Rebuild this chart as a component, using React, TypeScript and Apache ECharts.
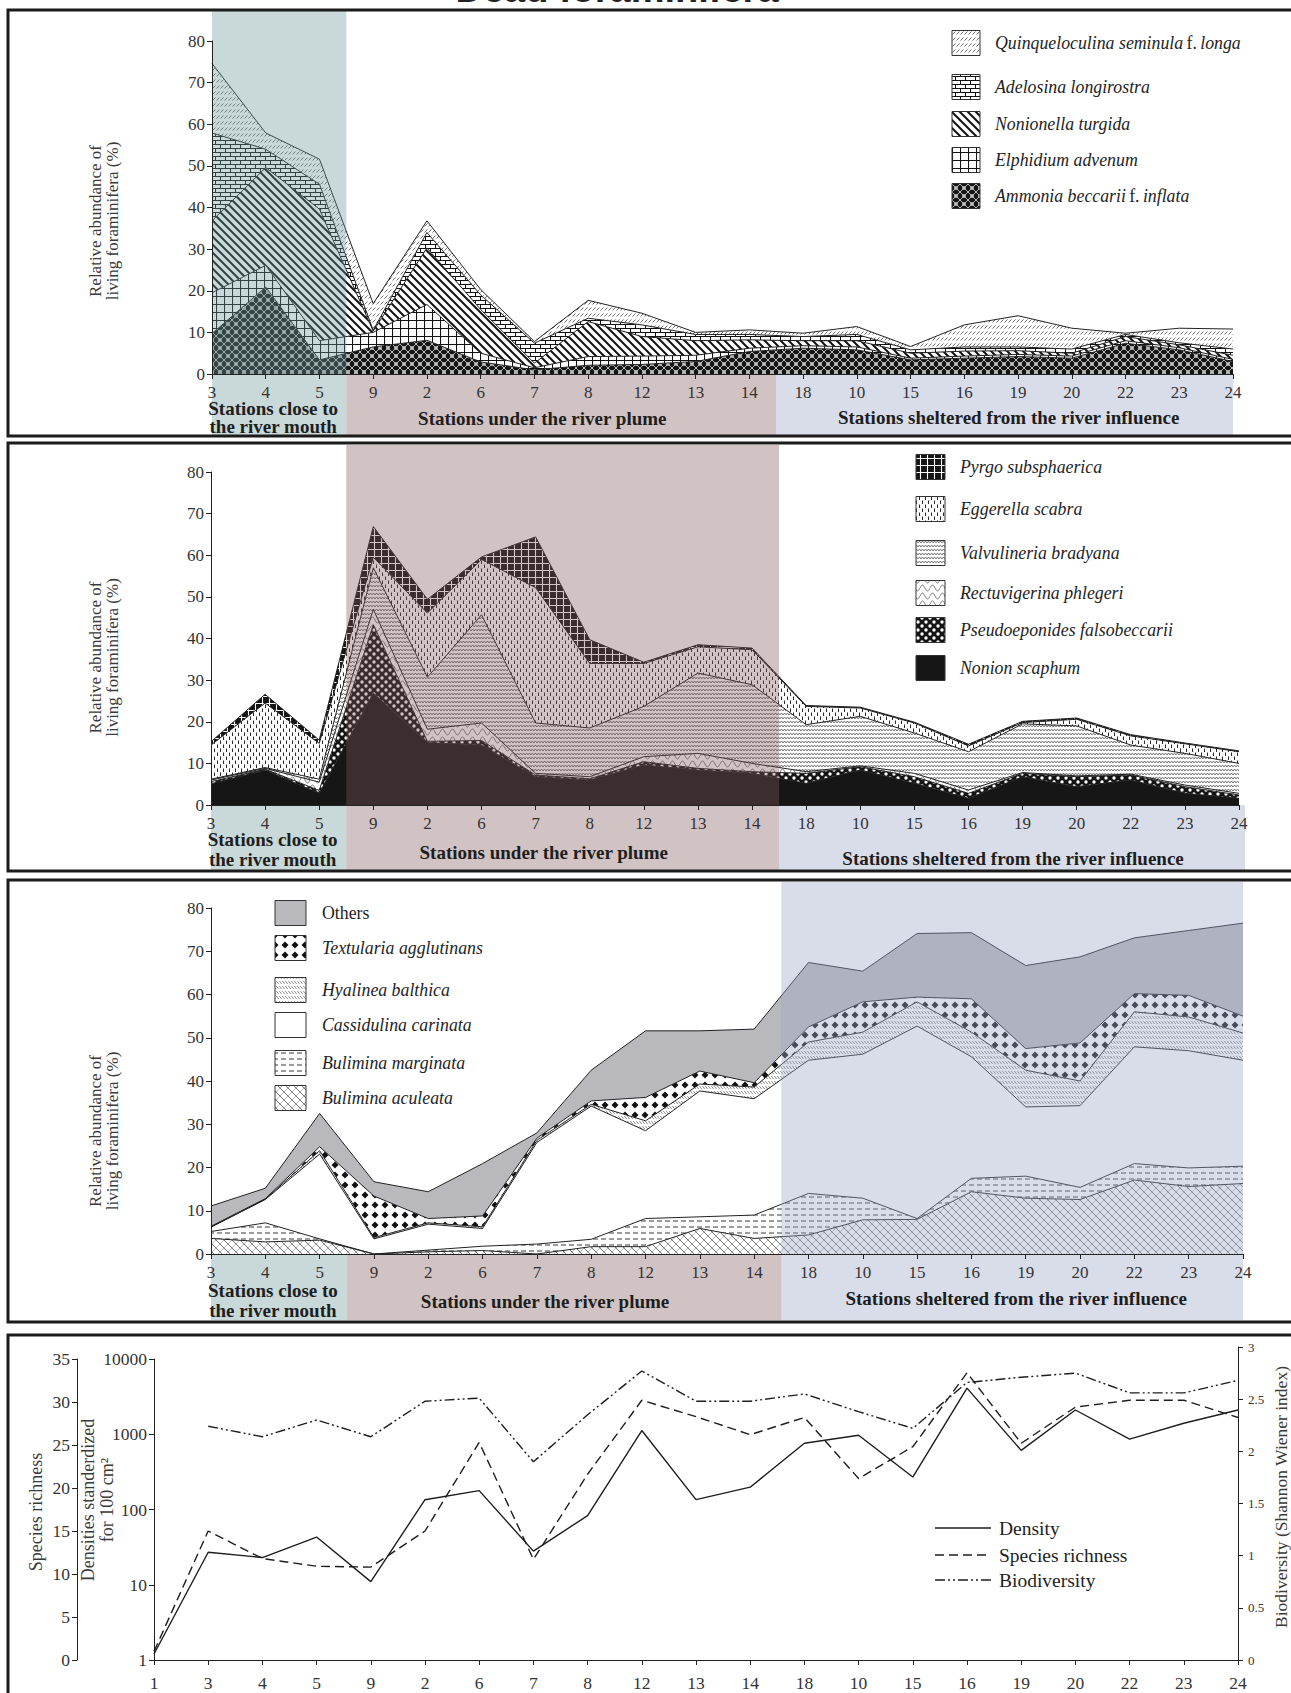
import React, { useEffect, useRef } from 'react';
import * as echarts from 'echarts';

// ---------------- DATA ----------------
const stations = ['3', '4', '5', '9', '2', '6', '7', '8', '12', '13', '14', '18', '10', '15', '16', '19', '20', '22', '23', '24'];
const stationsAll = ['1', '3', '4', '5', '9', '2', '6', '7', '8', '12', '13', '14', '18', '10', '15', '16', '19', '20', '22', '23', '24'];

// Panel 1 (relative abundance, %)
const ammoniaBeccarii = [9.7, 20.9, 3.4, 6.5, 8.1, 2.9, 1.0, 2.1, 2.3, 3.0, 5.4, 6.2, 5.8, 3.4, 3.8, 4.2, 3.8, 7.4, 5.8, 3.0];
const elphidiumAdvenum = [9.8, 5.2, 4.6, 3.5, 8.6, 2.1, 0.5, 2.1, 2.0, 1.5, 0.8, 0.6, 0.7, 0.4, 0.5, 0.5, 0.5, 0.6, 0.5, 0.5];
const nonionellaTurgida = [17.3, 23.5, 31.6, 0.3, 13.6, 10.5, 1.1, 8.4, 4.7, 3.5, 2.0, 1.2, 1.5, 1.2, 1.2, 0.9, 0.7, 1.0, 0.7, 1.0];
const adelosinaLongirostra = [21.1, 4.4, 6.0, 0.2, 3.7, 3.5, 4.8, 0.8, 2.8, 1.5, 1.3, 1.0, 1.5, 0.8, 1.0, 0.9, 1.0, 0.5, 0.5, 1.5];
const quinqueloculinaSeminula = [16.7, 3.9, 6.0, 6.4, 2.8, 1.3, 0.4, 4.3, 2.8, 0.5, 1.1, 0.8, 1.9, 0.8, 5.3, 7.5, 5.0, 0.3, 3.5, 4.8];

// Panel 2
const nonionScaphum = [5.1, 8.4, 2.8, 26.9, 15.0, 14.4, 6.8, 6.0, 9.6, 8.4, 7.6, 5.2, 8.4, 5.2, 1.6, 6.8, 4.4, 6.0, 2.8, 1.6];
const pseudoeponides = [0.5, 0.2, 0.7, 16.4, 0.3, 1.1, 0.4, 0.3, 0.8, 0.4, 0.4, 2.4, 0.8, 1.6, 1.2, 0.8, 2.4, 1.2, 1.6, 0.8];
const rectuvigerina = [0.4, 0.2, 2.0, 3.7, 2.9, 4.2, 0.4, 0.5, 1.2, 3.6, 2.0, 0.4, 0.2, 0.8, 0.8, 0.2, 0.2, 0.2, 0.4, 0.4];
const valvulineria = [0.2, 0.2, 0.7, 10.0, 12.5, 26.0, 12.1, 11.7, 12.1, 19.3, 18.9, 11.3, 11.9, 9.7, 9.2, 11.7, 12.0, 7.0, 7.6, 7.2];
const eggerella = [8.2, 15.5, 8.6, 2.5, 15.4, 13.3, 32.5, 15.5, 10.3, 6.3, 8.4, 4.4, 2.0, 2.4, 1.4, 0.3, 1.6, 2.2, 2.3, 2.8];
const pyrgo = [0.8, 2.1, 0.8, 7.4, 3.3, 0.6, 12.2, 5.7, 0.3, 0.5, 0.4, 0.2, 0.2, 0.2, 0.4, 0.3, 0.3, 0.3, 0.2, 0.2];

// Panel 3
const buliminaAculeata = [3.6, 2.8, 3.2, 0, 0.5, 0.8, 0, 1.7, 1.7, 5.9, 3.6, 4.4, 7.9, 8.0, 14.4, 12.9, 12.6, 17.1, 15.6, 16.3];
const buliminaMarginata = [1.6, 4.4, 0.3, 0, 0.4, 1.0, 2.3, 1.7, 6.5, 2.7, 5.4, 9.6, 5.0, 0.2, 3.1, 5.1, 2.8, 3.8, 4.3, 4.0];
const cassidulina = [1.0, 5.4, 19.6, 3.5, 6.0, 4.1, 23.5, 30.8, 20.3, 29.1, 26.9, 30.8, 33.3, 44.5, 28.1, 16.0, 18.9, 27.0, 27.1, 24.5];
const hyalinea = [0.1, 0.1, 0.8, 0.3, 0.3, 0.4, 0.5, 0.4, 2.3, 1.6, 2.7, 4.2, 5.1, 5.6, 5.7, 8.5, 5.7, 8.1, 7.8, 6.3];
const textularia = [0.1, 0.1, 0.9, 9.6, 1.0, 2.5, 0.5, 0.8, 5.4, 3.0, 1.0, 3.5, 7.0, 1.1, 7.7, 5.0, 8.8, 4.2, 5.0, 3.9];
const others = [4.7, 2.4, 7.7, 3.3, 6.2, 12.1, 1.2, 7.1, 15.4, 9.3, 12.4, 14.9, 7.1, 14.7, 15.3, 19.2, 19.9, 12.9, 15.0, 21.5];

// Panel 4
const density = [1.2, 27, 23, 43, 11, 135, 178, 28, 83, 1120, 135, 198, 760, 970, 270, 4100, 610, 2100, 860, 1400, 2100];
const speciesRichness = [1, 15.0, 11.8, 10.9, 10.8, 15.0, 25.3, 11.7, 21.6, 30.2, 28.3, 26.2, 28.2, 21.1, 24.8, 33.4, 25.2, 29.4, 30.2, 30.2, 28.2];
const biodiversity = [null, 2.24, 2.14, 2.30, 2.14, 2.48, 2.51, 1.90, 2.35, 2.77, 2.48, 2.48, 2.55, 2.38, 2.22, 2.66, 2.71, 2.75, 2.56, 2.56, 2.68];

const abundanceTicks = [0, 80, 10];
const logTicks = [1, 10000];
const richnessTicks = [0, 35, 5];
const shannonTicks = [0, 3, 0.5];

// ---------------- STYLE ----------------
const W = 1291;
const H = 1693;
const SERIF = '"Liberation Serif", "Times New Roman", Times, serif';
const SANS = '"Liberation Sans", Arial, Helvetica, sans-serif';

function tile(w: number, h: number, body: string, bg = '#ffffff') {
  const svg = `<svg xmlns="http://www.w3.org/2000/svg" width="${w}" height="${h}" viewBox="0 0 ${w} ${h}"><rect width="${w}" height="${h}" fill="${bg}"/>${body}</svg>`;
  return { image: 'data:image/svg+xml;base64,' + btoa(svg), repeat: 'repeat', imageWidth: w, imageHeight: h } as any;
}

const PAT = {
  ammonia: tile(8, 8, '<path d="M0,0L8,8M8,0L0,8" stroke="#fff" stroke-width="0.7"/><circle cx="4" cy="4" r="1.6" fill="none" stroke="#fff" stroke-width="0.6"/>', '#161616'),
  elphidium: tile(8, 8, '<path d="M0.5,0V8M0,0.5H8" stroke="#111" stroke-width="1.1"/>'),
  nonionella: tile(8, 8, '<path d="M0,0L8,8M-2,6L2,10M6,-2L10,2" stroke="#111" stroke-width="2"/>'),
  adelosina: tile(10, 8, '<path d="M0,0.5H10M0,4.5H10M0.5,0.5V4.5M5.5,4.5V8" stroke="#111" stroke-width="1"/>'),
  quinq: tile(4, 6, '<path d="M0.5,4.5L3.5,1.5" stroke="#333" stroke-width="0.7"/>'),
  nonion: '#161616',
  pseudo: tile(8, 8, '<circle cx="2" cy="2" r="1.7" fill="#fff"/><circle cx="6" cy="6" r="1.7" fill="#fff"/>', '#141414'),
  rect: tile(10, 8, '<path d="M0,4C2,0 3,0 5,4S8,8 10,4" fill="none" stroke="#444" stroke-width="0.7"/>'),
  valv: tile(6, 4, '<path d="M0,3L1.5,1L3,3L4.5,1L6,3" fill="none" stroke="#444" stroke-width="0.7"/>'),
  egg: tile(6, 8, '<path d="M1.5,0.5V4M4.5,4.5V8" stroke="#111" stroke-width="0.9"/>'),
  pyrgo: tile(7, 7, '<path d="M3.5,0V7M0,3.5H7" stroke="#fff" stroke-width="1.1"/>', '#141414'),
  acul: tile(8, 8, '<path d="M0,0L8,8M-2,6L2,10M6,-2L10,2" stroke="#333" stroke-width="0.7"/><path d="M8,0L0,8M-2,2L2,-2M6,10L10,6" stroke="#777" stroke-width="0.5"/>'),
  marg: tile(8, 6, '<path d="M1,3H6" stroke="#222" stroke-width="0.9"/>'),
  cass: '#ffffff',
  hyal: tile(3, 5, '<path d="M0.3,1L2.7,4" stroke="#444" stroke-width="0.6"/>'),
  text: tile(10, 10, '<path d="M5,1.5L8.5,5L5,8.5L1.5,5Z" fill="#111"/>'),
  others: '#b9b9bd',
};

const TEAL = 'rgba(108,149,149,0.37)';
const PINK = 'rgba(128,86,89,0.36)';
const BLUE = 'rgba(157,168,201,0.39)';

const panels = [
  { grid: { left: 212, top: 41, width: 1021, height: 333 }, series: [
    { name: 'Ammonia beccarii f. inflata', data: ammoniaBeccarii, pat: PAT.ammonia },
    { name: 'Elphidium advenum', data: elphidiumAdvenum, pat: PAT.elphidium },
    { name: 'Nonionella turgida', data: nonionellaTurgida, pat: PAT.nonionella },
    { name: 'Adelosina longirostra', data: adelosinaLongirostra, pat: PAT.adelosina },
    { name: 'Quinqueloculina seminula f. longa', data: quinqueloculinaSeminula, pat: PAT.quinq },
  ] },
  { grid: { left: 211, top: 472, width: 1028, height: 333 }, series: [
    { name: 'Nonion scaphum', data: nonionScaphum, pat: PAT.nonion },
    { name: 'Pseudoeponides falsobeccarii', data: pseudoeponides, pat: PAT.pseudo },
    { name: 'Rectuvigerina phlegeri', data: rectuvigerina, pat: PAT.rect },
    { name: 'Valvulineria bradyana', data: valvulineria, pat: PAT.valv },
    { name: 'Eggerella scabra', data: eggerella, pat: PAT.egg },
    { name: 'Pyrgo subsphaerica', data: pyrgo, pat: PAT.pyrgo },
  ] },
  { grid: { left: 211, top: 908, width: 1032, height: 346 }, series: [
    { name: 'Bulimina aculeata', data: buliminaAculeata, pat: PAT.acul },
    { name: 'Bulimina marginata', data: buliminaMarginata, pat: PAT.marg },
    { name: 'Cassidulina carinata', data: cassidulina, pat: PAT.cass },
    { name: 'Hyalinea balthica', data: hyalinea, pat: PAT.hyal },
    { name: 'Textularia agglutinans', data: textularia, pat: PAT.text },
    { name: 'Others', data: others, pat: PAT.others },
  ] },
];

const lineAxis = { show: true, lineStyle: { color: '#222', width: 1 } };
const tickStyle = { show: true, length: 5, lineStyle: { color: '#222', width: 1 } };

function buildOption(): any {
  const grid: any[] = panels.map((p) => ({ ...p.grid, containLabel: false }));
  grid.push({ left: 154, top: 1359, width: 1084, height: 301 });
  grid.push({ left: 154, top: 1347, width: 1084, height: 313 });

  const xAxis: any[] = panels.map((_, i) => ({
    type: 'category', gridIndex: i, data: stations, boundaryGap: false, z: 50,
    axisLine: lineAxis, axisTick: tickStyle,
    axisLabel: { interval: 0, margin: 10, color: '#333', fontFamily: SERIF, fontSize: 17 },
  }));
  xAxis.push({
    type: 'category', gridIndex: 3, data: stationsAll, boundaryGap: false, z: 50,
    axisLine: lineAxis, axisTick: tickStyle,
    axisLabel: { interval: 0, margin: 14, color: '#333', fontFamily: SERIF, fontSize: 17.5 },
  });
  xAxis.push({ type: 'category', gridIndex: 4, data: stationsAll, boundaryGap: false, show: false });

  const yAxis: any[] = panels.map((_, i) => ({
    type: 'value', gridIndex: i, min: abundanceTicks[0], max: abundanceTicks[1], interval: abundanceTicks[2], z: 50,
    axisLine: lineAxis, axisTick: tickStyle, splitLine: { show: false },
    axisLabel: { margin: 7, color: '#333', fontFamily: SERIF, fontSize: 17 },
  }));
  yAxis.push({
    type: 'value', gridIndex: 3, position: 'left', offset: 77, min: richnessTicks[0], max: richnessTicks[1], interval: richnessTicks[2],
    axisLine: lineAxis, axisTick: tickStyle, splitLine: { show: false },
    axisLabel: { margin: 7, color: '#333', fontFamily: SERIF, fontSize: 17.5 },
  });
  yAxis.push({
    type: 'log', gridIndex: 3, position: 'left', offset: 0, min: logTicks[0], max: logTicks[1], logBase: 10,
    axisLine: lineAxis, axisTick: tickStyle, splitLine: { show: false }, minorTick: { show: false },
    axisLabel: { margin: 7, color: '#333', fontFamily: SERIF, fontSize: 17.5, formatter: (v: number) => String(Math.round(v)) },
  });
  yAxis.push({
    type: 'value', gridIndex: 4, position: 'right', min: shannonTicks[0], max: shannonTicks[1], interval: shannonTicks[2],
    axisLine: lineAxis, axisTick: tickStyle, splitLine: { show: false },
    axisLabel: { margin: 10, color: '#333', fontFamily: SERIF, fontSize: 13 },
  });

  const series: any[] = [];
  panels.forEach((p, i) => {
    p.series.forEach((s) => {
      series.push({
        type: 'line', name: s.name, xAxisIndex: i, yAxisIndex: i, stack: 'p' + i,
        data: s.data, symbol: 'none', silent: true, z: 2,
        lineStyle: { color: '#222', width: 1 },
        areaStyle: { color: s.pat, opacity: 1 },
      });
    });
  });
  series.push({
    type: 'line', name: 'Density', xAxisIndex: 3, yAxisIndex: 4, data: density, symbol: 'none', silent: true,
    lineStyle: { color: '#1e1e1e', width: 1.4, type: 'solid' },
  });
  series.push({
    type: 'line', name: 'Species richness', xAxisIndex: 3, yAxisIndex: 3, data: speciesRichness, symbol: 'none', silent: true,
    lineStyle: { color: '#1e1e1e', width: 1.4, type: [9, 5] },
  });
  series.push({
    type: 'line', name: 'Biodiversity', xAxisIndex: 4, yAxisIndex: 5, data: biodiversity, symbol: 'none', silent: true,
    lineStyle: { color: '#1e1e1e', width: 1.4, type: [10, 3, 2, 3, 2, 3] },
  });

  return { animation: false, backgroundColor: '#ffffff', grid, xAxis, yAxis, series };
}

const legend1 = [
  { key: 'quinq', y: 43, text: '{i|Quinqueloculina seminula} {n|f.} {i|longa}' },
  { key: 'adelosina', y: 87, text: '{i|Adelosina longirostra}' },
  { key: 'nonionella', y: 124, text: '{i|Nonionella turgida}' },
  { key: 'elphidium', y: 160, text: '{i|Elphidium advenum}' },
  { key: 'ammonia', y: 196, text: '{i|Ammonia beccarii} {n|f.} {i|inflata}' },
];
const legend2 = [
  { key: 'pyrgo', y: 467, text: '{i|Pyrgo subsphaerica}' },
  { key: 'egg', y: 509, text: '{i|Eggerella scabra}' },
  { key: 'valv', y: 553, text: '{i|Valvulineria bradyana}' },
  { key: 'rect', y: 593, text: '{i|Rectuvigerina phlegeri}' },
  { key: 'pseudo', y: 630, text: '{i|Pseudoeponides falsobeccarii}' },
  { key: 'nonion', y: 668, text: '{i|Nonion scaphum}' },
];
const legend3 = [
  { key: 'others', y: 913, text: '{n|Others}' },
  { key: 'text', y: 948, text: '{i|Textularia agglutinans}' },
  { key: 'hyal', y: 990, text: '{i|Hyalinea balthica}' },
  { key: 'cass', y: 1025, text: '{i|Cassidulina carinata}' },
  { key: 'marg', y: 1063, text: '{i|Bulimina marginata}' },
  { key: 'acul', y: 1098, text: '{i|Bulimina aculeata}' },
];

function buildGraphics(chart: any): any[] {
  const g: any[] = [];
  const px = (ax: number, idx: number) => chart.convertToPixel({ xAxisIndex: ax }, idx) as number;
  const py = (ax: number, v: number) => chart.convertToPixel({ yAxisIndex: ax }, v) as number;
  const band = (x1: number, x2: number, y1: number, y2: number, fill: string) =>
    g.push({ type: 'rect', z: 40, silent: true, shape: { x: x1, y: y1, width: x2 - x1, height: y2 - y1 }, style: { fill } });

  const panelBox = [[11, 435], [445, 870], [882, 1320]];
  panelBox.forEach(([top, bottom], i) => {
    const x0 = px(i, 0);
    const m1 = (px(i, 2) + px(i, 3)) / 2;
    const m2 = (px(i, 10) + px(i, 11)) / 2;
    const x3 = px(i, 19) + (i === 1 ? 6 : 0);
    const yb = py(i, 0);
    band(x0, m1, i === 0 ? top : yb, bottom, TEAL);
    band(m1, m2, i === 1 ? top : yb, bottom, PINK);
    band(m2, x3, i === 2 ? top : yb, bottom, BLUE);

    // group labels
    const lab = (text: string, x: number, y: number) => g.push({
      type: 'text', z: 60, silent: true, x, y,
      style: { text, fill: '#1e1e1e', fontFamily: SERIF, fontWeight: 'bold', fontSize: 19, textAlign: 'center', textVerticalAlign: 'middle' },
    });
    const ly = [[408, 426, 418, 417], [839, 859, 852, 858], [1290, 1310, 1301, 1298]][i];
    lab('Stations close to', (x0 + m1) / 2 - 6, ly[0]);
    lab('the river mouth', (x0 + m1) / 2 - 6, ly[1]);
    lab('Stations under the river plume', (m1 + m2) / 2 - 19, ly[2]);
    lab('Stations sheltered from the river influence', (m2 + px(i, 19)) / 2 + 4, ly[3]);

    // y axis name
    g.push({
      type: 'text', z: 60, silent: true, x: 104, y: (top + bottom) / 2 + (i === 0 ? -2 : i === 1 ? 0 : 30), rotation: Math.PI / 2,
      style: { text: 'Relative abundance of\nliving foraminifera (%)', fill: '#3a3a3a', fontFamily: SERIF, fontSize: 17, lineHeight: 17, textAlign: 'center', textVerticalAlign: 'middle' },
    });
  });

  const rich = (size: number) => ({
    i: { fontStyle: 'italic', fontFamily: SERIF, fontSize: size, fill: '#1e1e1e' },
    n: { fontStyle: 'normal', fontFamily: SERIF, fontSize: size, fill: '#1e1e1e' },
  });
  const legendBlock = (items: any[], sx: number, sw: number, tx: number) => {
    items.forEach((it) => {
      g.push({ type: 'rect', z: 60, silent: true, shape: { x: sx, y: it.y - 12.5, width: sw, height: 25 },
        style: { fill: (PAT as any)[it.key], stroke: '#333', lineWidth: 1 } });
      g.push({ type: 'text', z: 60, silent: true, x: tx, y: it.y,
        style: { text: it.text, rich: rich(17.8), textAlign: 'left', textVerticalAlign: 'middle' } });
    });
  };
  legendBlock(legend1, 952, 28, 995);
  legendBlock(legend2, 916, 29, 960);
  legendBlock(legend3, 275, 31, 322);

  // panel 4 legend
  const leg4 = [
    { t: 'Density', y: 1528, dash: null },
    { t: 'Species richness', y: 1555, dash: [9, 5] },
    { t: 'Biodiversity', y: 1580, dash: [10, 3, 2, 3, 2, 3] },
  ];
  leg4.forEach((l) => {
    g.push({ type: 'line', z: 60, silent: true, shape: { x1: 935, y1: l.y, x2: 991, y2: l.y },
      style: { stroke: '#1e1e1e', lineWidth: 1.4, lineDash: l.dash } });
    g.push({ type: 'text', z: 60, silent: true, x: 999, y: l.y,
      style: { text: l.t, fill: '#1e1e1e', fontFamily: SERIF, fontSize: 19.5, textAlign: 'left', textVerticalAlign: 'middle' } });
  });

  // panel 4 axis names
  g.push({ type: 'text', z: 60, silent: true, x: 36, y: 1512, rotation: Math.PI / 2,
    style: { text: 'Species richness', fill: '#3a3a3a', fontFamily: SERIF, fontSize: 18, textAlign: 'center', textVerticalAlign: 'middle' } });
  g.push({ type: 'text', z: 60, silent: true, x: 97, y: 1500, rotation: Math.PI / 2,
    style: { text: 'Densities standerdized\nfor 100 cm\u00B2', fill: '#3a3a3a', fontFamily: SERIF, fontSize: 18, lineHeight: 19, textAlign: 'center', textVerticalAlign: 'middle' } });
  g.push({ type: 'text', z: 60, silent: true, x: 1281, y: 1497, rotation: Math.PI / 2,
    style: { text: 'Biodiversity (Shannon Wiener index)', fill: '#3a3a3a', fontFamily: SERIF, fontSize: 17.5, textAlign: 'center', textVerticalAlign: 'middle' } });

  // panel borders
  [[10, 436], [443, 871], [880, 1322], [1335, 1760]].forEach(([t, b]) => {
    g.push({ type: 'rect', z: 70, silent: true, shape: { x: 8, y: t, width: 1320, height: b - t },
      style: { fill: 'none', stroke: '#1b1b1b', lineWidth: 3 } });
  });

  // title (cut at the top, as in the reference)
  g.push({ type: 'text', z: 80, silent: true, x: 617, y: -11,
    style: { text: 'Dead foraminifera', fill: '#222', fontFamily: SANS, fontWeight: 'bold', fontSize: 38, textAlign: 'center', textVerticalAlign: 'middle' } });
  return g;
}

export default function App() {
  const ref = useRef<HTMLDivElement>(null);
  useEffect(() => {
    document.body.style.margin = '0';
    const chart = echarts.init(ref.current!, null, { renderer: 'svg', width: W, height: H });
    chart.setOption(buildOption());
    chart.setOption({ graphic: buildGraphics(chart) });
    return () => chart.dispose();
  }, []);
  return <div ref={ref} style={{ width: W, height: H, background: '#fff' }} />;
}
